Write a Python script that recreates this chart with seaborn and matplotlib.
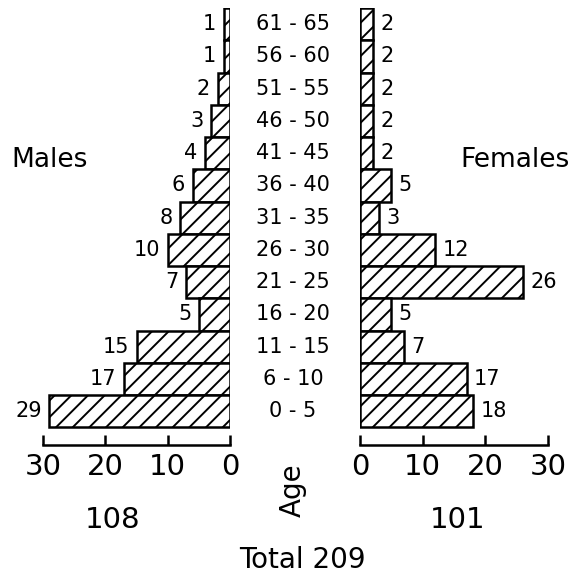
import matplotlib
matplotlib.use("Agg")
import matplotlib.pyplot as plt
import matplotlib.transforms as mtransforms
import seaborn as sns

ages = ["61 - 65", "56 - 60", "51 - 55", "46 - 50", "41 - 45", "36 - 40", "31 - 35",
        "26 - 30", "21 - 25", "16 - 20", "11 - 15", "6 - 10", "0 - 5"]
males = [1, 1, 2, 3, 4, 6, 8, 10, 7, 5, 15, 17, 29]
females = [2, 2, 2, 2, 2, 5, 3, 12, 26, 5, 7, 17, 18]
male_total = 108
female_total = 101
grand_total = 209
ticks = [0, 10, 20, 30]

sns.set_theme(style="white")
plt.rcParams["font.family"] = ["DejaVu Sans"]
plt.rcParams["text.color"] = "black"
plt.rcParams["hatch.linewidth"] = 1.4
plt.rcParams["hatch.color"] = "black"

W, H = 570, 579
fig = plt.figure(figsize=(W / 100, H / 100), dpi=100)
fig.patch.set_facecolor("white")


def px_box(x0, x1, ytop, ybot):
    return [x0 / W, 1 - ybot / H, (x1 - x0) / W, (ybot - ytop) / H]


axL = fig.add_axes(px_box(43, 230, 8, 445))
axR = fig.add_axes(px_box(360, 548, 8, 445))

for ax, vals in [(axL, males), (axR, females)]:
    sns.barplot(x=vals, y=ages, orient="h", ax=ax, color="white",
                edgecolor="black", linewidth=1.8, hatch="//", width=1.0,
                saturation=1)
    ax.set_xlim(0, 30)
    ax.set_ylim(13.05, -0.5)
    ax.set_xticks(ticks)
    ax.set_xticklabels([str(t) for t in ticks], fontsize=21, color="black")
    ax.set_yticks([])
    ax.set_xlabel("")
    ax.set_ylabel("")
    for s in ["top", "left", "right"]:
        ax.spines[s].set_visible(False)
    ax.spines["bottom"].set_linewidth(1.8)
    ax.spines["bottom"].set_color("black")
    ax.tick_params(axis="x", direction="in", length=7, width=1.8,
                   colors="black", pad=6, bottom=True)
    ax.set_facecolor("none")

axL.invert_xaxis()

for i, v in enumerate(males):
    axL.text(v + 1.2, i, str(v), ha="right", va="center", fontsize=15,
             color="black")
for i, v in enumerate(females):
    axR.text(v + 1.2, i, str(v), ha="left", va="center", fontsize=15,
             color="black")

# age group labels in the middle
trans = mtransforms.blended_transform_factory(fig.transFigure, axL.transData)
for i, a in enumerate(ages):
    axL.text(293 / W, i, a, transform=trans, ha="center", va="center",
             fontsize=15, color="black", clip_on=False)

fig.text(50 / W, 1 - 160 / H, "Males", ha="center", va="center", fontsize=19)
fig.text(515 / W, 1 - 160 / H, "Females", ha="center", va="center", fontsize=19)
fig.text(293 / W, 1 - 490 / H, "Age", ha="center", va="center", fontsize=20,
         rotation=90)
fig.text(113 / W, 1 - 520 / H, str(male_total), ha="center", va="center", fontsize=21)
fig.text(458 / W, 1 - 520 / H, str(female_total), ha="center", va="center", fontsize=21)
fig.text(302 / W, 1 - 560 / H, "Total " + str(grand_total), ha="center",
         va="center", fontsize=20)

fig.savefig("out.png", dpi=100, facecolor="white")
